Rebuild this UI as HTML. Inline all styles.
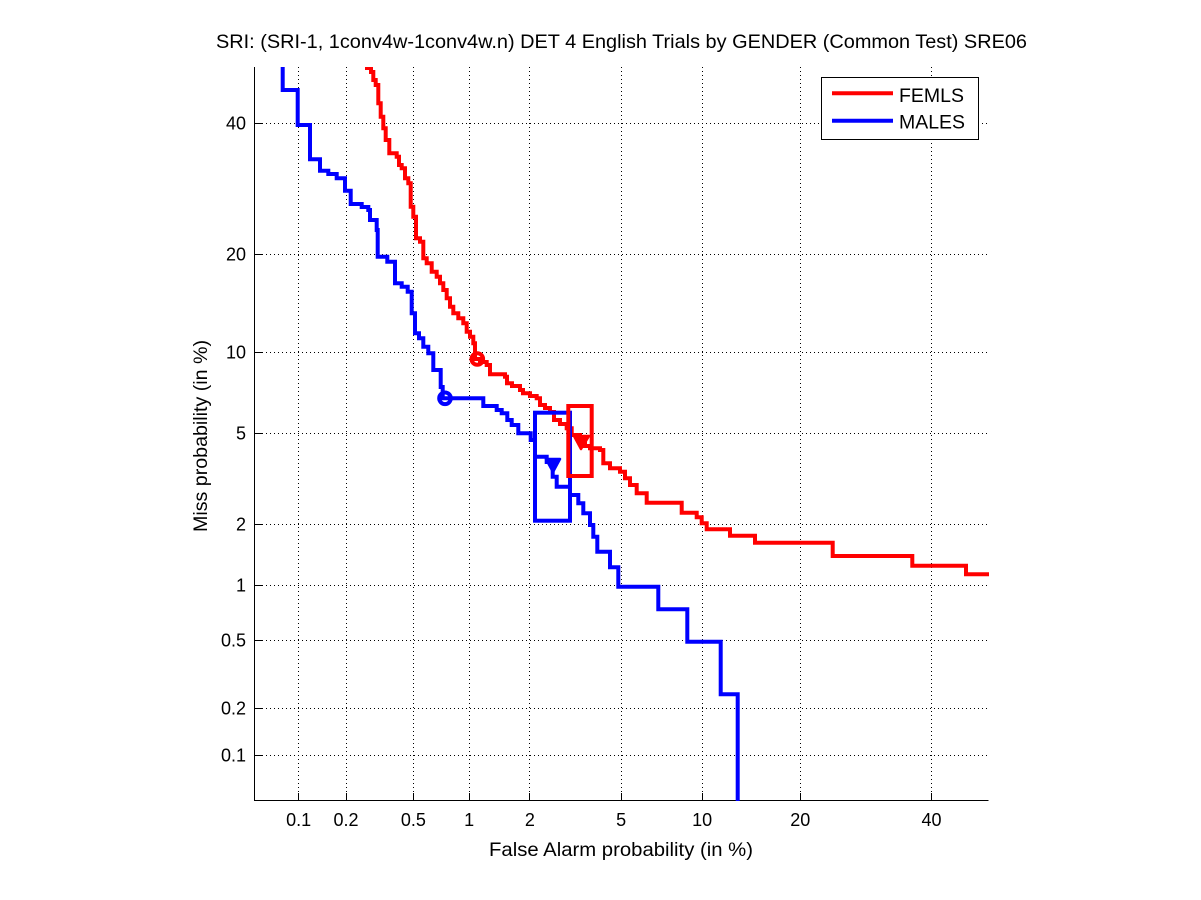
<!DOCTYPE html>
<html>
<head>
<meta charset="utf-8">
<style>
  html,body{margin:0;padding:0;background:#fff;}
  svg{display:block;}
  text{font-family:"Liberation Sans","DejaVu Sans",sans-serif;fill:#000;}
</style>
</head>
<body>
<svg width="1201" height="900" viewBox="0 0 1201 900" xmlns="http://www.w3.org/2000/svg">
  <rect x="0" y="0" width="1201" height="900" fill="#fff"/>
  <defs>
    <clipPath id="plotclip">
      <rect x="254" y="67" width="735" height="734"/>
    </clipPath>
  </defs>

  <!-- Grid (dotted) -->
  <g stroke="#000" stroke-width="1" stroke-dasharray="1,3" fill="none">
    <line x1="298.5" y1="67" x2="298.5" y2="800"/>
    <line x1="346.5" y1="67" x2="346.5" y2="800"/>
    <line x1="413.5" y1="67" x2="413.5" y2="800"/>
    <line x1="469.5" y1="67" x2="469.5" y2="800"/>
    <line x1="529.5" y1="67" x2="529.5" y2="800"/>
    <line x1="621.5" y1="67" x2="621.5" y2="800"/>
    <line x1="702.5" y1="67" x2="702.5" y2="800"/>
    <line x1="800.5" y1="67" x2="800.5" y2="800"/>
    <line x1="931.5" y1="67" x2="931.5" y2="800"/>

    <line x1="254" y1="755.5" x2="988" y2="755.5"/>
    <line x1="254" y1="708.5" x2="988" y2="708.5"/>
    <line x1="254" y1="640.5" x2="988" y2="640.5"/>
    <line x1="254" y1="585.5" x2="988" y2="585.5"/>
    <line x1="254" y1="524.5" x2="988" y2="524.5"/>
    <line x1="254" y1="433.5" x2="988" y2="433.5"/>
    <line x1="254" y1="352.5" x2="988" y2="352.5"/>
    <line x1="254" y1="254.5" x2="988" y2="254.5"/>
    <line x1="254" y1="123.5" x2="988" y2="123.5"/>
  </g>

  <!-- Axes -->
  <g stroke="#000" stroke-width="1" fill="none">
    <line x1="254.5" y1="67" x2="254.5" y2="801"/>
    <line x1="254" y1="800.5" x2="988.5" y2="800.5"/>
    <!-- x ticks -->
    <line x1="298.5" y1="800" x2="298.5" y2="793"/>
    <line x1="346.5" y1="800" x2="346.5" y2="793"/>
    <line x1="413.5" y1="800" x2="413.5" y2="793"/>
    <line x1="469.5" y1="800" x2="469.5" y2="793"/>
    <line x1="529.5" y1="800" x2="529.5" y2="793"/>
    <line x1="621.5" y1="800" x2="621.5" y2="793"/>
    <line x1="702.5" y1="800" x2="702.5" y2="793"/>
    <line x1="800.5" y1="800" x2="800.5" y2="793"/>
    <line x1="931.5" y1="800" x2="931.5" y2="793"/>
    <!-- y ticks -->
    <line x1="255" y1="755.5" x2="262" y2="755.5"/>
    <line x1="255" y1="708.5" x2="262" y2="708.5"/>
    <line x1="255" y1="640.5" x2="262" y2="640.5"/>
    <line x1="255" y1="585.5" x2="262" y2="585.5"/>
    <line x1="255" y1="524.5" x2="262" y2="524.5"/>
    <line x1="255" y1="433.5" x2="262" y2="433.5"/>
    <line x1="255" y1="352.5" x2="262" y2="352.5"/>
    <line x1="255" y1="254.5" x2="262" y2="254.5"/>
    <line x1="255" y1="123.5" x2="262" y2="123.5"/>
  </g>

  <!-- Curves -->
  <g clip-path="url(#plotclip)" fill="none" stroke-width="4" stroke-linejoin="miter" stroke-linecap="butt">
    <!-- FEMLS (red) -->
    <path stroke="#ff0000" d="M 367 60 V 68 H 371 V 72 H 373.3 V 80 H 375.7 V 85 H 378.3 V 103.3 H 380.7 V 116.7 H 383.3 V 128.3 H 385.7 V 140 H 389.3 V 153.3 H 396.7 V 156.7 H 399 V 165 H 401.7 V 168.3 H 405 V 178.3 H 408.3 V 183.3 H 410.7 V 206.7 H 413.3 V 216.7 H 416 V 238.3 H 420 V 241.7 H 423.3 V 258.3 H 426.7 V 263.3 H 431.7 V 271.7 H 436.7 V 276.7 H 440 V 283.3 H 443.3 V 290 H 446.7 V 298.3 H 450 V 306.7 H 453.3 V 313.3 H 458.3 V 318.3 H 463.3 V 323.3 H 466.7 V 331.7 H 470 V 336.7 H 473.3 V 343.3 H 475 V 359 H 480 V 362 H 486.7 V 365 H 490 V 374.3 H 505 V 376.7 H 507 V 383.3 H 512 V 386 H 520 V 390 H 523 V 393.3 H 530 V 396 H 536.7 V 398.3 H 540 V 405 H 545 V 408 H 550 V 412 H 554 V 420 H 560 V 424 H 566.7 V 428.3 H 571.7 V 435 H 580 V 440 H 585 V 446 H 590 V 448.3 H 600 V 450 H 603.3 V 463.3 H 610 V 468.3 H 620 V 471.7 H 625 V 478.3 H 630 V 485 H 636.7 V 493.3 H 646.7 V 502.7 H 681.7 V 512.7 H 696.7 V 517.3 H 701.7 V 523.3 H 706.7 V 529.3 H 730 V 535.7 H 755 V 542.7 H 832.7 V 556 H 912.3 V 565.7 H 966 V 574.3 H 995"/>
    <!-- MALES (blue) -->
    <path stroke="#0000ff" d="M 282.7 60 V 90 H 297.7 V 125 H 310 V 159.3 H 320 V 170.7 H 328.3 V 174 H 336.7 V 178.3 H 345 V 190.7 H 350.7 V 204 H 361.7 V 207 H 368.3 V 210 H 370 V 220 H 376.7 V 230 H 377.7 V 256.7 H 387.3 V 261.7 H 395 V 283.3 H 401.7 V 286.7 H 407.7 V 291.7 H 411.7 V 313.3 H 415 V 333.3 H 419 V 338.3 H 423.3 V 346.7 H 428.3 V 353.3 H 433.3 V 370 H 440.7 V 387 H 442.7 V 398.3 H 483.3 V 406 H 496.7 V 410 H 501.7 V 413.3 H 507.3 V 420 H 511.7 V 425 H 518.3 V 433.3 H 530.7 V 440 H 535 V 456.7 H 546.7 V 462 H 552.7 V 476.7 H 556.7 V 486.7 H 570 V 495 H 578.3 V 503.3 H 583.3 V 513.3 H 590 V 525 H 593.3 V 536.7 H 597.3 V 551.7 H 610 V 567.3 H 618.3 V 586.7 H 658.3 V 609.3 H 687.3 V 641.7 H 720.7 V 694.3 H 737.7 V 810"/>

    <!-- Confidence boxes -->
    <rect x="535" y="412.7" width="35" height="108" stroke="#0000ff"/>
    <rect x="568.3" y="406" width="23.4" height="70" stroke="#ff0000"/>

    <!-- Markers -->
    <circle cx="477.3" cy="359" r="5.8" stroke="#ff0000" stroke-width="4"/>
    <circle cx="445" cy="398.3" r="5.8" stroke="#0000ff" stroke-width="4"/>
    <polygon points="546,459 560,459 553,472" fill="#0000ff" stroke="#0000ff" stroke-width="2.5" stroke-linejoin="round"/>
    <polygon points="574,436 589,436 581,449" fill="#ff0000" stroke="#ff0000" stroke-width="2.5" stroke-linejoin="round"/>
  </g>

  <!-- X tick labels -->
  <g font-size="18" text-anchor="middle">
    <text x="298.7" y="826">0.1</text>
    <text x="346" y="826">0.2</text>
    <text x="413.4" y="826">0.5</text>
    <text x="469.1" y="826">1</text>
    <text x="529.9" y="826">2</text>
    <text x="621.1" y="826">5</text>
    <text x="702.1" y="826">10</text>
    <text x="800.3" y="826">20</text>
    <text x="931.5" y="826">40</text>
  </g>

  <!-- Y tick labels -->
  <g font-size="18" text-anchor="end">
    <text x="246" y="761.5">0.1</text>
    <text x="246" y="714.5">0.2</text>
    <text x="246" y="646.5">0.5</text>
    <text x="246" y="591.5">1</text>
    <text x="246" y="530.5">2</text>
    <text x="246" y="439.5">5</text>
    <text x="246" y="358.5">10</text>
    <text x="246" y="260.5">20</text>
    <text x="246" y="129.5">40</text>
  </g>

  <!-- Axis labels -->
  <text x="621" y="856" font-size="19.5" text-anchor="middle" textLength="264" lengthAdjust="spacingAndGlyphs">False Alarm probability (in %)</text>
  <text transform="translate(207,436) rotate(-90)" x="0" y="0" font-size="19.5" text-anchor="middle" textLength="192" lengthAdjust="spacingAndGlyphs">Miss probability (in %)</text>

  <!-- Title -->
  <text x="216" y="48" font-size="19.5" textLength="811" lengthAdjust="spacingAndGlyphs">SRI: (SRI-1, 1conv4w-1conv4w.n) DET 4 English Trials by GENDER (Common Test) SRE06</text>

  <!-- Legend -->
  <rect x="821.5" y="77.5" width="157" height="62" fill="#fff" stroke="#000" stroke-width="1"/>
  <line x1="832" y1="93.3" x2="893" y2="93.3" stroke="#ff0000" stroke-width="4"/>
  <line x1="832" y1="120.7" x2="893" y2="120.7" stroke="#0000ff" stroke-width="4"/>
  <text x="899" y="102" font-size="19.5" textLength="65" lengthAdjust="spacingAndGlyphs">FEMLS</text>
  <text x="899" y="128.5" font-size="19.5" textLength="66" lengthAdjust="spacingAndGlyphs">MALES</text>
</svg>
</body>
</html>
